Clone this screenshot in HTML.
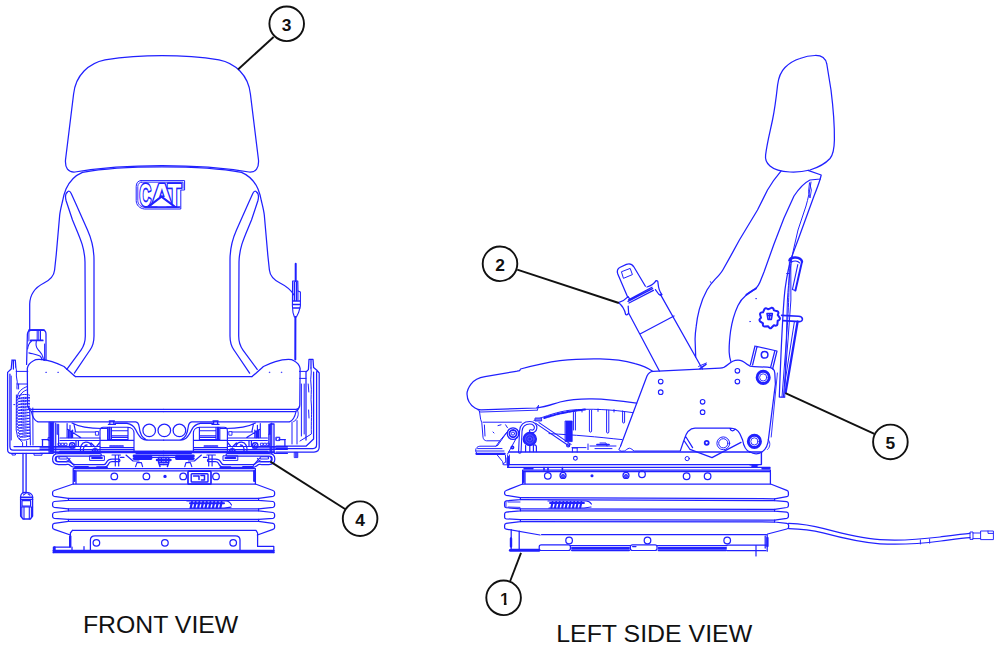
<!DOCTYPE html>
<html lang="en">
<head>
<meta charset="utf-8">
<title>Seat - Front view and left side view</title>
<style>
html,body{margin:0;padding:0;background:#fff;}
body{width:1000px;height:648px;overflow:hidden;font-family:"Liberation Sans",sans-serif;}
svg{display:block;}
.b{fill:none;stroke:#2020ff;stroke-width:1.25;stroke-linecap:round;stroke-linejoin:round;}
.k{fill:none;stroke:#111;stroke-width:1.9;stroke-linecap:butt;}
.num{font-family:"Liberation Sans",sans-serif;font-weight:bold;font-size:17.4px;fill:#111;stroke:none;text-anchor:middle;}
.cap{font-family:"Liberation Sans",sans-serif;font-size:23.6px;fill:#111;stroke:none;}
</style>
</head>
<body>
<svg width="1000" height="648" viewBox="0 0 1000 648">
<rect x="0" y="0" width="1000" height="648" fill="#ffffff"/>
<g class="b" id="front-view">
<path d="M75 172 C68 172.5 65 168 65.5 160 L73.6 94 C75.6 75 89 63 105 59.8 C125 56.8 145 55.6 162 55.6 C180 55.6 200 56.8 219 59.8 C235 63 248.4 75 250.4 94 L258.5 160 C259 168 256 172.5 249 172 C225 168 195 165.6 162 165.6 C129 165.6 99 168 75 172 Z"/>
<path d="M82.5 172.3 C100 169 130 166.8 162 166.8 C194 166.8 224 169 241.5 172.3"/>
<path d="M82.5 172.3 C75 175.4 69.5 181 66 189 C64.4 193 63.2 197 62.6 201 C61.4 206 60.3 210 59.7 215 L56.2 255 L54.6 270 C54 276 50 280 44 283 C35 287.5 30 294 29.7 304 L29.7 331"/>
<path d="M241.5 172.3 C249 175.4 254.5 181 258 189 C259.6 193 260.8 197 261.4 201 C262.6 206 263.7 210 264.3 215 L267.8 255 L269.4 270 C270 276 274 280 280 283 C287 286.5 291 290 294 295"/>
<path d="M67 192.5 C65.2 194 65.4 198 66.2 201 L72.5 220 C79 236 84.6 246 85 262 L85.3 336 C85.3 342 84 346 81 350 L66.8 369.4"/>
<path d="M67 192.5 C68.4 190.3 70 191 71.2 193.5 L75.5 203 L87.5 230 C92 240 94 249 94 260 L94 336 C94 342 93 346 90 350 L74.4 373.2"/>
<g transform="translate(324,0) scale(-1,1)"><path d="M67 192.5 C65.2 194 65.4 198 66.2 201 L72.5 220 C79 236 84.6 246 85 262 L85.3 336 C85.3 342 84 346 81 350 L66.8 369.4"/><path d="M67 192.5 C68.4 190.3 70 191 71.2 193.5 L75.5 203 L87.5 230 C92 240 94 249 94 260 L94 336 C94 342 93 346 90 350 L74.4 373.2"/></g>
<path d="M141 180.6 L184.6 180.6 L184.6 190 L180.8 190 L180.8 209 L144.5 209 C139.5 208.5 136.2 205 136.2 200.5 L136.2 186.5 C136.2 183 138 180.6 141 180.6 Z" stroke-width="1.0"/>
<path d="M141.6 182.2 L183 182.2 L183 188.4 M179.4 207.5 L145 207.5 C140.8 207 137.8 204.3 137.8 200.5 L137.8 186.5 C137.8 184 139.4 182.2 141.6 182.2" stroke-width="0.9"/>
<g id="cat-logo" aria-label="CAT">
<text transform="translate(139.4,206.3) scale(0.5,1)" style="font-family:'Liberation Sans',sans-serif;font-weight:bold;font-size:32.2px;vector-effect:non-scaling-stroke;stroke-linejoin:round;fill:#fff;stroke:#2222ff;stroke-width:2.9;paint-order:stroke;">C</text>
<text transform="translate(151.0,206.3) scale(0.93,1)" style="font-family:'Liberation Sans',sans-serif;font-weight:bold;font-size:32.2px;vector-effect:non-scaling-stroke;stroke-linejoin:round;fill:#fff;stroke:#2222ff;stroke-width:2.9;paint-order:stroke;">A</text>
<text transform="translate(167.6,206.3) scale(0.7,1)" style="font-family:'Liberation Sans',sans-serif;font-weight:bold;font-size:32.2px;vector-effect:non-scaling-stroke;stroke-linejoin:round;fill:#fff;stroke:#2222ff;stroke-width:2.9;paint-order:stroke;">T</text>
</g>
<path d="M150 206.4 L161.4 197.4 L173.2 206.4 Z" fill="#fff" stroke="none"/>
<path d="M148.8 206.4 L161.4 196.6 L174.4 206.4" stroke-width="2.0" fill="none"/>
<path d="M146 206.8 L180 206.8" stroke-width="1.2"/>
<path d="M295.7 263.8 L295.7 281 M295.4 317 L295.3 359.4" stroke-width="2.0"/>
<path d="M292.6 281 L297.8 281 L298 291 L300.4 292 L300.4 306 L298.6 312.6 L296.4 317 L294.4 317 L293 312.6 L292.4 306 Z" stroke-width="1.1"/>
<path d="M294.4 282 L294.4 300 M296.6 282 L296.6 300 M293 301 L300 301 M293 304.6 L300 304.6 M293.4 308 L299.8 308" stroke-width="1.5"/>
<path d="M298 291 L298 300" stroke-width="1.0"/>
<path d="M75.4 376.6 L252 376.6"/>
<path d="M75.4 376.6 C72 374 68 370 64 366.5 C60 364.6 56 363 52 361.7 C47 360.1 43 359.4 39 359.4 C36 359.4 34.5 360 33.5 360.7 C30 362.6 27.8 365 27.3 368.4 L27.6 404.6 C27.6 408 28.8 409.2 31.4 409.4 L163.7 409.4 M28.4 407 C28.8 410 30.4 411.4 33 411.6 L163.7 411.6"/>
<g transform="translate(327.4,0) scale(-1,1)"><path d="M75.4 376.6 C72 374 68 370 64 366.5 C60 364.6 56 363 52 361.7 C47 360.1 43 359.4 39 359.4 C36 359.4 34.5 360 33.5 360.7 C30 362.6 27.8 365 27.3 368.4 L27.6 404.6 C27.6 408 28.8 409.2 31.4 409.4 L163.7 409.4 M28.4 407 C28.8 410 30.4 411.4 33 411.6 L163.7 411.6"/></g>
<path d="M295.8 409.6 C298.4 409.8 298.8 414 297.6 417 C296.8 419 295.6 420.6 293.6 421.6" stroke-width="1.0"/>
<path d="M31.5 412 C32.5 417 34.5 420.6 38 421.9 L135.6 421.9 C138 422.2 138.8 424 139.2 427 C139.8 432.5 141.4 437.6 146 439.6 C147.4 440.1 148.6 440.2 150.6 440.2 L163.7 440.2 M115 423.4 L127 423.4 C131 424 134 426.4 135.6 429.6 C137 432.6 138.6 436 141.4 438.2 C143 439.4 144.6 440.2 146.6 440.2"/>
<g transform="translate(327.4,0) scale(-1,1)"><path d="M31.5 412 C32.5 417 34.5 420.6 38 421.9 L135.6 421.9 C138 422.2 138.8 424 139.2 427 C139.8 432.5 141.4 437.6 146 439.6 C147.4 440.1 148.6 440.2 150.6 440.2 L163.7 440.2 M115 423.4 L127 423.4 C131 424 134 426.4 135.6 429.6 C137 432.6 138.6 436 141.4 438.2 C143 439.4 144.6 440.2 146.6 440.2"/></g>
<circle cx="149.2" cy="430.4" r="6.3"/>
<circle cx="164.3" cy="430.4" r="6.3"/>
<circle cx="179.4" cy="430.4" r="6.3"/>
<circle cx="46" cy="372.3" r="0.35" stroke-width="0.6"/>
<circle cx="58" cy="372.3" r="0.35" stroke-width="0.6"/>
<circle cx="269.4" cy="372.3" r="0.35" stroke-width="0.6"/>
<circle cx="281.4" cy="372.3" r="0.35" stroke-width="0.6"/>
<path d="M26.6 364.4 L27.4 334 C27.6 331 29.6 329.8 32.4 329.8 L42 329.8 C45 329.8 46 331.4 46 334 L46 360.6"/>
<path d="M29 330.2 L44 330.2" stroke-width="1.8"/>
<path d="M28.9 332 L28.9 341 M37.2 331 L37.2 340 M40.5 331 L40.5 340 M38.8 331 L38.8 340 M44.6 344 L44.6 360.6" stroke-width="1.0"/>
<path d="M30.7 340.4 L42.8 340.4" stroke-width="1.7"/>
<path d="M36.3 341.3 C35.6 345 36.6 348 38.1 349.6 C40 352 42.4 354 42.8 357 L43.7 360.3 M31.4 341.3 C29 343 28 346 27.6 349 M28.9 352.9 C33 354 37 354.6 40 356 C41.4 357 41.8 358.4 41.9 359.8" stroke-width="1.1"/>
<path d="M12 360 L15.3 360 L15.8 367 M12 360 L11.2 369 L7.6 372.4 L7.6 449.6 C7.6 452.4 8.8 453.4 11.4 453.4 L49 453.4 M9.9 374 L9.9 446.4 C9.9 449 10.8 450 13 450 L49 450 M14 446.6 L49 446.6 M13.4 361 L13.4 369"/>
<path d="M15.8 367 C17.4 371 15.6 375 16.8 379 C18 383 16.4 386 17 389" stroke-width="1.0"/>
<path d="M16.2 371.4 L27.8 371.4 M16.8 384 L27.4 384 M18.6 384 L18.6 389 M11.2 376 L11.2 440 M13.8 404.6 L14.8 404.6" stroke-width="1.0"/>
<path d="M17.2 397.6 C17.6 392 22 388 27.6 386.4 M19 399 C19.6 394 23 391 27.6 389.6 M16.6 397.5 C17.6 394.4 26.6 393.6 29.6 395.2 M16.6 397.5 C18.6 399.4 25.6 399.2 29.6 397.4 M16.6 400.4 C17.6 397.3 26.6 396.5 29.6 398.1 M16.6 400.4 C18.6 402.3 25.6 402.1 29.6 400.3 M16.6 403.4 C17.6 400.3 26.6 399.5 29.6 401.1 M16.6 403.4 C18.6 405.3 25.6 405.1 29.6 403.3 M16.6 406.4 C17.6 403.2 26.6 402.4 29.6 404.1 M16.6 406.4 C18.6 408.2 25.6 408.1 29.6 406.2 M16.6 409.3 C17.6 406.2 26.6 405.4 29.6 407.0 M16.6 409.3 C18.6 411.2 25.6 411.0 29.6 409.2 M16.6 412.2 C17.6 409.1 26.6 408.3 29.6 409.9 M16.6 412.2 C18.6 414.1 25.6 413.9 29.6 412.1 M16.6 415.2 C17.6 412.1 26.6 411.3 29.6 412.9 M16.6 415.2 C18.6 417.1 25.6 416.9 29.6 415.1 M16.6 418.1 C17.6 415.0 26.6 414.2 29.6 415.8 M16.6 418.1 C18.6 420.0 25.6 419.8 29.6 418.0 M16.6 421.1 C17.6 418.0 26.6 417.2 29.6 418.8 M16.6 421.1 C18.6 423.0 25.6 422.8 29.6 421.0 M16.6 424.1 C17.6 420.9 26.6 420.1 29.6 421.8 M16.6 424.1 C18.6 425.9 25.6 425.8 29.6 423.9 M17.1 427.0 C18.1 423.9 26.6 423.1 29.6 424.7 M17.1 427.0 C19.1 428.9 25.6 428.7 29.6 426.9 M17.6 429.9 C18.6 426.8 26.6 426.0 29.6 427.6 M17.6 429.9 C19.6 431.8 25.6 431.6 29.6 429.8 M18.1 432.9 C19.1 429.8 26.6 429.0 29.6 430.6 M18.1 432.9 C20.1 434.8 25.6 434.6 29.6 432.8 M18.6 435.9 C19.6 432.8 26.6 431.9 29.6 433.6 M18.6 435.9 C20.6 437.8 25.6 437.6 29.6 435.8 M19.1 438.8 C20.1 435.7 26.6 434.9 29.6 436.5 M19.1 438.8 C21.1 440.7 25.6 440.5 29.6 438.7 " stroke-width="1.0"/>
<path d="M16.4 395 L16.2 430 L17.6 437 L22.6 442.6 L22.6 446.4 M29.8 408 L30.4 445 M32.8 408 L33 445 M26.6 441 L26.6 446.4" stroke-width="1.0"/>
<path d="M12 453.6 L12 455 L15.4 455 L15.4 453.6 M34 453.6 L34 455.2 L42 455.2 L42 453.6" stroke-width="1.0"/>
<path d="M23 453.5 L23 493 M26.1 453.5 L26.1 493" stroke-width="1.3"/>
<path d="M20.6 497 C20.6 494 23 492.4 25 492.4 L28 492.6 C30.6 493 32.6 495 32.6 497 L32.6 516 L30.4 519 L23 519 L20.6 516 Z" stroke-width="1.3"/>
<path d="M20.6 497.2 L32.6 497.2 M20.6 499.4 L32.6 499.4" stroke-width="1.4"/>
<rect x="22" y="500.6" width="8.6" height="5.6" stroke-width="1.2"/>
<path d="M20.6 507 L32.6 507 M21.8 507.4 L21.8 517 M24 507.4 L24 519 M29.3 507.4 L29.3 519 M31.4 507.4 L31.4 517 M23.4 495 L25.4 493.6 M28 493.8 L30 495.2" stroke-width="1.1"/>
<path d="M309 359.4 L313 359.4 L313.6 367.6 L316.6 370 L319.2 373 L319.2 447 C319.2 450.6 317.4 452 314 452 L276 452 M309 359.4 L308.4 369.6 L306 372 L306 440 M316.6 371.6 L316.6 444.6 C316.6 447.4 315.2 448.6 313 448.6 L276 448.6 M276 446.2 L306 446.2 L313.6 439 L313.6 372 M311 360 L311 368"/>
<path d="M311 368 C312 374 310 378 311 384 C312 391 310.4 398 311.4 405 C312 413 311 421 311.4 434 L300 441" stroke-width="1.0"/>
<path d="M299.4 371.4 L306 371.4 M299.6 378.4 L306 378.4 M301.4 384 L301.4 436 M304.2 384 L304.2 434 M292 422 L292 444 M297 420.6 L297 444 M308.2 384 L308.8 392 M308.6 410 L309 418" stroke-width="1.0"/>
<rect x="276.2" y="437.2" width="3.6" height="3.2" stroke-width="0.9"/>
<rect x="294.6" y="452.4" width="3.2" height="5.2" fill="#4a4aff" stroke-width="0.8"/>
<g><path d="M55.7 423 L55.7 462" stroke-width="1.15"/><rect x="57.2" y="424.2" width="1.6" height="10.2" fill="#2020ff" stroke-width="0.6"/><path d="M58.6 434.4 L58.6 446" stroke-width="1.15"/><rect x="48.4" y="437.6" width="2.6" height="3.0" fill="#fff" stroke-width="0.9"/><path d="M42 439.6 L48.4 439.6 M42.5 439.6 L42.5 446.4" stroke-width="1.26"/><path d="M40 446.5 L100 446.5 M40 447.9 L75 447.9 M40 449.5 L134 449.5 M53 451.2 L163.7 451.2 M53 452.6 L163.7 452.6" stroke-width="1.15"/><path d="M60 451.9 L163.7 451.9" stroke-width="2.18"/><path d="M40 453.4 L53 453.4" stroke-width="1.15"/><path d="M67.1 438 L67.1 423.6 M60 438 L100 438 M60 440.5 L100 440.5 M68 429.4 C72 432 76 435 80.7 437.4 M74.8 432 L98.4 432 M74 424.3 C74.6 427 75 429.6 75.6 432 M72 423 C80 427.4 92 428.8 107 428.4 M70 425.4 L70 437.6 M72.6 430 L72.6 437.6" stroke-width="1.15"/><path d="M68.8 430.4 L68.8 437.4 M71.2 431 L71.2 437.4" stroke-width="1.72"/><rect x="95.8" y="431.6" width="2.8" height="3.6" fill="#fff" stroke-width="0.9"/><rect x="58.4" y="443.2" width="2.2" height="2.4" stroke-width="0.9"/><rect x="61.6" y="443.2" width="2.2" height="2.4" stroke-width="0.9"/><rect x="64.8" y="443.2" width="2.2" height="2.4" stroke-width="0.9"/><circle cx="72.2" cy="445.4" r="2.7" stroke-width="1.4"/><circle cx="72.2" cy="445.4" r="1.0" stroke-width="1.0"/><path d="M80.6 452 C79.6 447 81.6 442.6 85.6 442.2 C88.6 442 90.6 443.6 91.4 446 M83.4 451 C83 447.6 84.4 445 87 445 M91 443 L95 447 M99.4 443 L96.4 446.6 M76 441 L76 446 M78.4 441 L78.4 446" stroke-width="1.26"/><circle cx="95.1" cy="451.4" r="2.7" stroke-width="1.5"/><circle cx="95.1" cy="451.4" r="0.9" stroke-width="1.2"/><path d="M100 451 L100 431 C100 429 101 427.2 103.4 427.2 L128 427.2 C131.6 427.4 134 430 134 433 L134 452 M107.6 427.8 L107.6 439.6 L128 439.6 L128 427.8 M111.4 430.7 L128 430.7 M111.4 435.8 L128 435.8 M111.4 437.5 L128 437.5 M111.4 428 L111.4 439.6 M100 440.4 L134 440.4 M100 447.6 L134 447.6" stroke-width="1.15"/><path d="M109.4 428 L109.4 439.4" stroke-width="2.3"/><path d="M110 446 L123 446" stroke-width="1.72" stroke-dasharray="2.2 0.8"/><path d="M109.3 421 L114.4 421 M109.8 421 L109.8 424.4 M113.8 421 L113.8 424.4 M108.4 424.4 L115.4 424.4" stroke-width="1.26"/><path d="M100 454.9 L58.4 454.9 C54.6 454.9 53.9 457 53.9 459.1 C53.9 462 55 463.3 58.6 463.3 L64.6 463.3 C67.4 463.3 68.6 462.4 69.8 463.6 C71.4 465.2 72.4 466 75 466 L103.6 466 C106.4 466 107.2 464 108 462.4 C108.8 460.8 110 460.4 112 460.4 L118.6 460.4" stroke-width="3.9"/><path d="M100 454.9 L58.4 454.9 C54.6 454.9 53.9 457 53.9 459.1 C53.9 462 55 463.3 58.6 463.3 L64.6 463.3 C67.4 463.3 68.6 462.4 69.8 463.6 C71.4 465.2 72.4 466 75 466 L103.6 466 C106.4 466 107.2 464 108 462.4 C108.8 460.8 110 460.4 112 460.4 L118.6 460.4" stroke-width="1.44" stroke="#fff"/><path d="M58.6 456.8 L66.4 456.8 C67.6 456.8 67.6 459 66.4 459 L60.4 459 C58.2 459 58.2 456.8 60.4 456.8 M57 457 C55.8 458 55.8 460.6 57.4 461.4 L66 461.4 C68 461.4 69 460 70 458.4" stroke-width="1.03"/><path d="M68 458.3 L74 465.4" stroke-width="1.15"/><rect x="90" y="455.8" width="14.4" height="4.6" stroke-width="1.0"/><path d="M92 458 L102 458" stroke-width="1.84"/><path d="M115.3 455 L115.3 466 M118.7 455 L118.7 466 M112 455 L120.5 455 M120.5 457.4 L124 457.4 M135.6 466.6 L137 462.6 L141.4 462.6 L142.6 466.6 M126 455 L133 461 L139 461" stroke-width="1.15"/><path d="M134 456 L151 456 M134 458.6 L151 458.6" stroke-width="2.76"/><path d="M136 453.6 L163.7 453.6 M152 455.4 L163.7 455.4 M150 457.4 L163.7 457.4" stroke-width="1.15"/><path d="M158.6 457.6 L163.7 457.6 M158.6 457.6 L158.6 462.4 L160 466.6 M158.6 462.4 L163.7 462.4 M161.4 457.6 L161.4 462.4 M160.4 464.4 L163.7 464.4" stroke-width="1.49"/><path d="M157 460 L163.7 460" stroke-width="2.53"/><path d="M97 467.2 L107 467.2" stroke-width="1.84"/></g>
<rect x="49.2" y="422.2" width="4.6" height="30.6" fill="#2020ff" stroke-width="0.8"/>
<rect x="270.2" y="424" width="3.8" height="28.4" stroke-width="1.3"/>
<g transform="translate(327.4,0) scale(-1,1)"><path d="M55.7 423 L55.7 462" stroke-width="1.15"/><rect x="57.2" y="424.2" width="1.6" height="10.2" fill="#2020ff" stroke-width="0.6"/><path d="M58.6 434.4 L58.6 446" stroke-width="1.15"/><rect x="48.4" y="437.6" width="2.6" height="3.0" fill="#fff" stroke-width="0.9"/><path d="M42 439.6 L48.4 439.6 M42.5 439.6 L42.5 446.4" stroke-width="1.26"/><path d="M40 446.5 L100 446.5 M40 447.9 L75 447.9 M40 449.5 L134 449.5 M53 451.2 L163.7 451.2 M53 452.6 L163.7 452.6" stroke-width="1.15"/><path d="M60 451.9 L163.7 451.9" stroke-width="2.18"/><path d="M40 453.4 L53 453.4" stroke-width="1.15"/><path d="M67.1 438 L67.1 423.6 M60 438 L100 438 M60 440.5 L100 440.5 M68 429.4 C72 432 76 435 80.7 437.4 M74.8 432 L98.4 432 M74 424.3 C74.6 427 75 429.6 75.6 432 M72 423 C80 427.4 92 428.8 107 428.4 M70 425.4 L70 437.6 M72.6 430 L72.6 437.6" stroke-width="1.15"/><path d="M68.8 430.4 L68.8 437.4 M71.2 431 L71.2 437.4" stroke-width="1.72"/><rect x="95.8" y="431.6" width="2.8" height="3.6" fill="#fff" stroke-width="0.9"/><rect x="58.4" y="443.2" width="2.2" height="2.4" stroke-width="0.9"/><rect x="61.6" y="443.2" width="2.2" height="2.4" stroke-width="0.9"/><rect x="64.8" y="443.2" width="2.2" height="2.4" stroke-width="0.9"/><circle cx="72.2" cy="445.4" r="2.7" stroke-width="1.4"/><circle cx="72.2" cy="445.4" r="1.0" stroke-width="1.0"/><path d="M80.6 452 C79.6 447 81.6 442.6 85.6 442.2 C88.6 442 90.6 443.6 91.4 446 M83.4 451 C83 447.6 84.4 445 87 445 M91 443 L95 447 M99.4 443 L96.4 446.6 M76 441 L76 446 M78.4 441 L78.4 446" stroke-width="1.26"/><circle cx="95.1" cy="451.4" r="2.7" stroke-width="1.5"/><circle cx="95.1" cy="451.4" r="0.9" stroke-width="1.2"/><path d="M100 451 L100 431 C100 429 101 427.2 103.4 427.2 L128 427.2 C131.6 427.4 134 430 134 433 L134 452 M107.6 427.8 L107.6 439.6 L128 439.6 L128 427.8 M111.4 430.7 L128 430.7 M111.4 435.8 L128 435.8 M111.4 437.5 L128 437.5 M111.4 428 L111.4 439.6 M100 440.4 L134 440.4 M100 447.6 L134 447.6" stroke-width="1.15"/><path d="M109.4 428 L109.4 439.4" stroke-width="2.3"/><path d="M110 446 L123 446" stroke-width="1.72" stroke-dasharray="2.2 0.8"/><path d="M109.3 421 L114.4 421 M109.8 421 L109.8 424.4 M113.8 421 L113.8 424.4 M108.4 424.4 L115.4 424.4" stroke-width="1.26"/><path d="M100 454.9 L58.4 454.9 C54.6 454.9 53.9 457 53.9 459.1 C53.9 462 55 463.3 58.6 463.3 L64.6 463.3 C67.4 463.3 68.6 462.4 69.8 463.6 C71.4 465.2 72.4 466 75 466 L103.6 466 C106.4 466 107.2 464 108 462.4 C108.8 460.8 110 460.4 112 460.4 L118.6 460.4" stroke-width="3.9"/><path d="M100 454.9 L58.4 454.9 C54.6 454.9 53.9 457 53.9 459.1 C53.9 462 55 463.3 58.6 463.3 L64.6 463.3 C67.4 463.3 68.6 462.4 69.8 463.6 C71.4 465.2 72.4 466 75 466 L103.6 466 C106.4 466 107.2 464 108 462.4 C108.8 460.8 110 460.4 112 460.4 L118.6 460.4" stroke-width="1.44" stroke="#fff"/><path d="M58.6 456.8 L66.4 456.8 C67.6 456.8 67.6 459 66.4 459 L60.4 459 C58.2 459 58.2 456.8 60.4 456.8 M57 457 C55.8 458 55.8 460.6 57.4 461.4 L66 461.4 C68 461.4 69 460 70 458.4" stroke-width="1.03"/><path d="M68 458.3 L74 465.4" stroke-width="1.15"/><rect x="90" y="455.8" width="14.4" height="4.6" stroke-width="1.0"/><path d="M92 458 L102 458" stroke-width="1.84"/><path d="M115.3 455 L115.3 466 M118.7 455 L118.7 466 M112 455 L120.5 455 M120.5 457.4 L124 457.4 M135.6 466.6 L137 462.6 L141.4 462.6 L142.6 466.6 M126 455 L133 461 L139 461" stroke-width="1.15"/><path d="M134 456 L151 456 M134 458.6 L151 458.6" stroke-width="2.76"/><path d="M136 453.6 L163.7 453.6 M152 455.4 L163.7 455.4 M150 457.4 L163.7 457.4" stroke-width="1.15"/><path d="M158.6 457.6 L163.7 457.6 M158.6 457.6 L158.6 462.4 L160 466.6 M158.6 462.4 L163.7 462.4 M161.4 457.6 L161.4 462.4 M160.4 464.4 L163.7 464.4" stroke-width="1.49"/><path d="M157 460 L163.7 460" stroke-width="2.53"/><path d="M97 467.2 L107 467.2" stroke-width="1.84"/></g>
<path d="M73.2 468.6 L255.4 468.6 M73.2 470.8 L255.4 470.8 M73.2 468.6 L73.2 484 M255.4 468.6 L255.4 484 M73.2 484 L255.4 484 M76 470.8 L76 483.6"/>
<path d="M74.6 471 L74.6 481 M254.2 471 L254.2 481" stroke-width="2.2"/>
<path d="M75 466.8 L88 466.8 M243 466.8 L253 466.8" stroke-width="1.8"/>
<circle cx="114.3" cy="476.4" r="3.3"/>
<circle cx="146.4" cy="476.4" r="3.3"/>
<circle cx="183.2" cy="476.4" r="3.3"/>
<circle cx="216" cy="476.4" r="3.3"/>
<circle cx="165" cy="476.4" r="0.9" stroke-width="1.6"/>
<rect x="188" y="471.2" width="23" height="13" rx="1" stroke-width="1.7"/>
<rect x="191.2" y="473.8" width="16.8" height="8.2" rx="0.8" stroke-width="1.4"/>
<path d="M193.5 476 L199 476 L199 479.5 M201 475.5 L204.5 475.5 L204.5 480 L201.5 480" stroke-width="1.5"/>
<path d="M73.2 484 L54.2 490.5 Q52.6 491 52.6 492.4 L52.6 494.6 Q52.6 496 54.2 496.3 L68.4 498.4 L68.4 500.4 L54.2 501.5 Q52.6 502 52.6 503.4 L52.6 505.6 Q52.6 507 54.2 507.3 L68.4 508.8 L68.4 510.8 L54.2 512.5 Q52.6 513 52.6 514.4 L52.6 516.6 Q52.6 518 54.2 518.3 L68.4 519.4 L68.4 521.4 L54.2 523.3 Q52.6 523.8 52.6 525.2 L52.6 527.6 Q52.6 529 54.2 529.3 L70.4 535"/>
<path d="M255.4 484 L273.0 490.5 Q274.6 491 274.6 492.4 L274.6 494.6 Q274.6 496 273.0 496.3 L258.6 498.4 L258.6 500.4 L273.0 501.5 Q274.6 502 274.6 503.4 L274.6 505.6 Q274.6 507 273.0 507.3 L258.6 508.8 L258.6 510.8 L273.0 512.5 Q274.6 513 274.6 514.4 L274.6 516.6 Q274.6 518 273.0 518.3 L258.6 519.4 L258.6 521.4 L273.0 523.3 Q274.6 523.8 274.6 525.2 L274.6 527.6 Q274.6 529 273.0 529.3 L257.4 535"/>
<path d="M68.4 498.4 L258.6 498.4 M68.4 500.4 L258.6 500.4 M68.4 508.8 L258.6 508.8 M68.4 510.8 L258.6 510.8 M68.4 519.4 L258.6 519.4 M68.4 521.4 L258.6 521.4"/>
<path d="M187 501 L226 501 C229 501 230.5 503 231.5 505 M190 508.2 L224 508.2 L231 507.2" stroke-width="1.2"/>
<path d="M192.0 502 L190.8 507.6 M195.7 502 L194.5 507.6 M199.4 502 L198.2 507.6 M203.1 502 L201.9 507.6 M206.8 502 L205.6 507.6 M210.5 502 L209.3 507.6 M214.2 502 L213.0 507.6 M217.9 502 L216.7 507.6 M221.6 502 L220.4 507.6 " stroke-width="2.2"/>
<path d="M190 503.2 L224 503.2" stroke-width="2.0"/>
<path d="M72.4 530.4 L256 530.4 M72.4 530.4 L70.4 533 L70.4 546 M257.6 533 L257.6 546 M256 530.4 L257.6 533"/>
<path d="M90.4 550 L90.4 540 C90.4 537 92 535.8 95 535.8 L235.5 535.8 C238.5 535.8 240 537 240 540 L240 550"/>
<circle cx="96.4" cy="542.8" r="3.3"/>
<circle cx="164.9" cy="542.8" r="3.3"/>
<circle cx="233.2" cy="542.8" r="3.3"/>
<path d="M53.4 547 L70 547 M53.4 547 L53.4 552.6 M257.6 546.4 L273.8 546.4 L273.8 552.6 M84 546.5 L84 552 M72 547 L72 552"/>
<path d="M53.4 550.6 L273.8 550.6 M53.4 552.4 L273.8 552.4" stroke-width="1.7"/>
<path d="M70.2 536.5 L70.2 546.5" stroke-width="2.4"/>
<path d="M54.6 547.4 L54.6 552" stroke-width="2.2"/>
</g>
<g class="b" id="side-view">
<path d="M815 55.5 C821 55.3 825.5 58 826.8 64 L831 90 C833.5 110 834.6 125 834.4 140 C834.2 150 833 155 830 158.5 C825 164 818 167.5 810 170 C803 171.8 796 172.3 790 172 C781 171.5 774 169.5 770 166 C766 162.5 765 159 765.6 155 C767 143 770 132 772.5 120 C775 108 776.5 95 777.6 85 C778.6 77 781 71.5 785 67.5 C790 62.5 795 60 800 58.5 C805 56.6 810 55.6 815 55.5 Z"/>
<path d="M781 171.2 C776 177 771 184 767.5 190 L757.5 210 L739.4 240 L731 255.4 L722.8 270 C720.8 273.4 718 276.4 715 279.4 C712 282.6 709 286.4 707 290 C703.6 296 701 303 699.3 309.4 C697.6 316 696.6 322 696.2 326.4 C695.4 332 695 337 695.1 340 L695.7 357"/>
<path d="M710.4 281.6 L711.4 283.4" stroke-width="0.9"/>
<path d="M808 170.4 L821.2 175 L820.2 179 L810 180 C803 183.5 798 190 794 196 L784 218 L774 244 L764 272 L761.2 279 C759.8 283 758 286.8 755 289 C751 291.8 748 293.4 746 295.2 C742 298.6 739.6 302 738 305.4 C734 314 731.6 324 730.6 331 C729.4 340 729 347 729.2 352.4 C729.4 356 730 359 730.8 361.4"/>
<path d="M756 288.4 C752 291 749 292.8 746.4 294.8" stroke-width="1.8"/>
<path d="M820.2 179 C818 186 816 191 814 196 L806 218 L798 240 L792 256 C789.6 263 787 275 785.2 288 C783.6 300 781.4 340 779.3 397 L784.7 397"/>
<path d="M811 182 C810 190 808 199 806 206 L798 230 L793.4 250 C791 262 788.6 280 787.4 300 L784.7 397" stroke-width="1.0"/>
<path d="M789.4 262 C789 280 789.4 300 786.4 340 L782 397 M790.8 264 L790.9 300 L788 340 L783.4 397" stroke-width="1.0"/>
<path d="M809.6 183 L811.4 190 L810 198 L808.6 192 Z" stroke-width="0.9"/>
<path d="M786.7 273.5 L789.4 273.5" stroke-width="1.0"/>
<circle cx="756" cy="298.7" r="0.4" stroke-width="0.6"/>
<circle cx="750" cy="321.6" r="0.4" stroke-width="0.6"/>
<path d="M789.4 260.4 C790.2 256.4 800.8 256.2 802 261.6" stroke-width="2.4"/>
<path d="M802 261.6 L795.4 290.6" stroke-width="2.0"/>
<path d="M797.8 264.6 L792.4 289.6 L795.4 290.6 M791 262.4 C794 260.4 797.6 260.8 799.6 262.8" stroke-width="1.1"/>
<path d="M781.6 315.4 L798.6 316.2 C803.4 316.4 803.6 321.4 799.6 321.6 L783 320.6" stroke-width="1.6"/>
<path d="M797.6 321.6 L785.6 392.6" stroke-width="2.3"/>
<path d="M794.4 321.6 L784.4 386" stroke-width="1.0"/>
<path d="M779.8 317.8 Q780.6 319.7 777.7 320.7 L777.4 324.4 Q776.8 326.4 773.9 325.2 L771.4 327.8 Q769.6 329.0 768.1 326.3 L764.5 326.6 Q762.4 326.4 763.0 323.3 L760.0 321.3 Q758.6 319.7 761.0 317.8 L760.0 314.3 Q759.9 312.2 763.0 312.3 L764.5 309.0 Q765.8 307.3 768.1 309.3 L771.4 307.8 Q773.4 307.3 773.9 310.4 L777.4 311.2 Q779.3 312.2 777.7 314.9 L779.8 317.8 Z" stroke-width="2.0"/>
<path d="M767 313.6 L772.4 313.6 L771.4 319.4 L768 319.4 Z M767.6 315.6 L772 315.6 M769.6 313.6 L769.6 319" stroke-width="1.5"/>
<path d="M755 346 L777 351 L772.6 369 M755 346 L750.4 364.6 M757 346.6 L752.6 365 M774.8 351 L770.6 367.4"/>
<circle cx="764.6" cy="354.8" r="3.3" stroke-width="1.5"/>
<path d="M653 371.4 L720 368.2 C724 368 726 366.5 728 364.5 C731 361.5 734 360 738 360 C742 360 744.5 362 747 364.2 C749 366 751 366.6 754 366.6 L767.4 367.2 C772 367.4 774.6 369 774.8 373 L775.4 384 L768.6 438 C768.2 444 766.5 449 762 452 C758 454.5 753 454 749.5 451.5 M653 371.4 C650 371.6 648.4 373 647 376 L620.6 446"/>
<path d="M777.4 373 L771.2 437" stroke-width="0.9"/>
<path d="M768.4 440 C770.5 442 770.5 447 767.5 449.5" stroke-width="0.9"/>
<path d="M698.6 366.4 L706.4 363" stroke-width="1.0"/>
<path d="M700 368.6 L706 364.4" stroke-width="1.6"/>
<circle cx="660.7" cy="381.6" r="2.3" stroke-width="1.1"/>
<circle cx="660.7" cy="392.2" r="2.3" stroke-width="1.1"/>
<circle cx="702.6" cy="401.8" r="2.3" stroke-width="1.1"/>
<circle cx="702.6" cy="412.2" r="2.3" stroke-width="1.1"/>
<circle cx="737.4" cy="370.8" r="2.3" stroke-width="1.1"/>
<circle cx="737.4" cy="381.6" r="2.3" stroke-width="1.1"/>
<circle cx="763.2" cy="377.4" r="6.1" stroke-width="2.9"/>
<circle cx="763.2" cy="377.4" r="3.6" stroke-width="0.9"/>
<circle cx="754.4" cy="441.4" r="6.1" stroke-width="2.9"/>
<circle cx="754.4" cy="441.4" r="3.6" stroke-width="0.9"/>
<path d="M680.4 450.6 L684 440 C686 433 689 428.4 695 428.2 L730 428.2 C735 428.2 738 430 740 434 L742.6 440 C743.6 446 746 450.5 750 452.4 M730 428.6 C731 431.5 734 431.5 735 428.8 M684 440.5 L690 449.5 M686 437 L692.6 447.6 M690 449.4 L712 457.6 L720 453.4 L741 442.4"/>
<circle cx="723.3" cy="443.3" r="6.4" stroke-width="1.0"/>
<circle cx="723.3" cy="443.3" r="4.6" stroke-width="1.0"/>
<circle cx="706.7" cy="442.8" r="2.0" stroke-width="1.8"/>
<circle cx="687.2" cy="458.6" r="2.1" stroke-width="1.0"/>
<path d="M627.4 296.6 L617.8 274 C616.6 270.6 617.8 268.4 620.2 267.2 L626.4 264.4 C629.6 263.2 632 264 633.8 266.8 L645.4 286.2"/>
<path d="M621.8 271.6 L630.2 268.4 L632.4 274.6 L623.8 278.2 Z" stroke-width="1.0"/>
<path d="M618.4 302.6 C622 301.6 625.4 299.6 628.2 296.6 L629.6 299 M618.4 302.6 C621.4 305 624.4 308 625.6 314.4 C626.4 315.4 628 314.6 628.6 313 C628.6 310.6 628.2 308 628.2 306 M647 287 C650.6 286 654 284 656 280.6 C657.6 280.4 658 281.6 658 283 C658.4 287.6 659.4 291.6 662 294.6 C661.6 295.6 660 295.4 658.6 294 L655.4 289.6"/>
<path d="M628 301.4 L652.6 288.6 M629 303 L653.4 290.4 M628.6 299.8 L652 287.2" stroke-width="1.3"/>
<path d="M628.6 313 L659.4 371 M660.4 294.4 L702.4 369 M640 334 L674 316"/>
<path d="M652.6 371.2 C647 367.4 641 365.2 635 363.6 C624 360.4 612 359 600 358.8 C587 358.6 574 358.9 560 360.6 C546 362.4 533 365.6 520.6 369 L519.6 370.6 L517 371.2 C506 373 495 375 485 376.6 C478 377.8 474 380 471 384 C468 388 467 391 467 394 C467.2 400 470 405 475 408 C477 409.3 479 409.8 481 409.8 L536 408 C546 407 553 404 560 402 C570 399.5 580 398.6 592 398.8 C607 399 622 401 636.6 403.2"/>
<path d="M478 409.8 C478.5 411.2 479.4 412 481 412 L537 410.2 M537 408 L538.6 405.2 L537.4 410.2" stroke-width="0.95"/>
<path d="M479.4 410.8 L480.6 419.2 L481.8 422.8 L483 437.2 C483.4 439.6 484.6 440.6 486.6 440.8 L499.8 440.8 L506.6 432.6 M483 422.2 L521.4 422.2 M484.4 425 L485 436" stroke-width="1.0"/>
<path d="M534 420.4 C546 416 558 411.6 570 410.2 C590 408.2 612 409.6 632.6 412.6" stroke-width="1.0"/>
<path d="M544.2 418 C556 414 570 411 585 409.6" stroke-width="2.0" stroke-dasharray="3.2 1.2"/>
<path d="M573.4 412 L573.4 430 M575.4 412 L575.4 430 M589.4 410.4 L589.4 431 C589.4 432.5 591.6 432.5 591.6 431 L591.6 410.4 M606.6 410 L606.6 432 C606.6 433.5 608.8 433.5 608.8 432 L608.8 410.2 M622.6 411 L622.6 422 C622.6 423.4 624.6 423.4 624.6 422 L624.6 411.4 M582 409.4 L582 412 M598 409 L598 411.4 M614 409.6 L614 412 " stroke-width="1.0"/>
<rect x="565.4" y="421" width="6.8" height="20.6" fill="#2020ff" stroke-width="0.8"/>
<rect x="535.4" y="418" width="6.2" height="3" fill="#7a7aff" stroke-width="0.9"/>
<circle cx="568.2" cy="445.4" r="1.5" stroke-width="1.3"/>
<path d="M535.8 423.4 L569.4 446.2 M539 422.6 L571 444.4" stroke-width="1.1"/>
<path d="M549 433.6 C562 434.4 574 435 585 436 C598 437 610 438.4 622 439.6 M572.4 448 L572.4 452 M577.2 448 L577.2 452 M572.4 448 L577.2 448" stroke-width="1.0"/>
<circle cx="513" cy="433.6" r="5.8" stroke-width="1.3"/>
<circle cx="513" cy="433.6" r="3.6" stroke-width="1.8" stroke-dasharray="1.4 0.9"/>
<circle cx="513" cy="433.6" r="1.6" stroke-width="1.0"/>
<path d="M507.4 431.6 L497.4 445.8 M516.8 437.2 L507.6 454 M505.6 424.8 L507.4 427.6 M498 425.6 L501 424.8 M493 432 L494 433" stroke-width="1.0"/>
<circle cx="512.4" cy="447.4" r="1.2" stroke-width="1.6"/>
<path d="M497.4 455.2 L502.6 461.6 L503.4 464.8 L507.6 464.8 M505.4 455.2 L505.8 462 M507 458 L507 464" stroke-width="1.0"/>
<path d="M519.8 452 L520.8 431 C521.4 425 525.4 422.8 529.8 422.8 C534 422.8 535.8 425.6 535.6 428 C535.4 430.6 533 432 530.6 431" stroke-width="3.6"/>
<path d="M519.8 452 L520.8 431 C521.4 425 525.4 422.8 529.8 422.8 C534 422.8 535.8 425.6 535.6 428 C535.4 430.6 533 432 530.6 431" stroke-width="1.4" stroke="#fff"/>
<circle cx="529.8" cy="439" r="6.6" fill="#2a2aff" stroke-width="1.2"/>
<circle cx="529.8" cy="439" r="4.2" stroke-width="0.7" stroke="#6a6aff"/>
<circle cx="529.8" cy="439" r="2.0" stroke-width="0.7" stroke="#6a6aff"/>
<path d="M525.6 445.6 L525.6 451.6 M529.8 446 L529.8 451.6 M533.4 445.6 L533.4 451.6 M536.4 446.6 L536.4 451.6 M533.4 445.6 C534 444.4 536 444.6 536.4 446.6" stroke-width="1.2"/>
<path d="M476.4 452.8 C475 451 475.6 448.6 477 447.4 C478 446.4 479.4 446.2 481 446.2 L496 446.2 M496 446.2 L499.8 440.8 M477.6 448.6 L502 448.6 M476 451 L504 451" stroke-width="1.0"/>
<path d="M476.4 453.8 L504.6 453.8" stroke-width="2.2"/>
<path d="M509 452 L761.4 452" stroke-width="1.5"/>
<path d="M507.6 464.6 L761.4 464.6 M507.6 467.4 L770 467.4 M761.4 452.4 L761.4 464.6" stroke-width="1.4"/>
<path d="M507.6 455 L507.6 467.4 M505.6 462 L503 464 M509.4 455 L509.4 464.6" stroke-width="0.95"/>
<path d="M508.4 457 L508.4 466" stroke-width="1.8"/>
<path d="M572 447.6 L586 447.6 M590 446 L616 446 M595 448.6 L612 448.6 M600 443 L606 443 L607 446 M588 444 L588 449.6" stroke-width="1.0"/>
<path d="M597 444.6 L609 444.6" stroke-width="1.8"/>
<path d="M620.6 446.2 L618.8 449.6 L621 451.2 L624.4 451 C626 450.4 627.4 448.4 629.4 448.2 C631.4 448.2 632.6 450.4 634.4 451 L680 451" stroke-width="1.0"/>
<circle cx="575.4" cy="458.3" r="1.9" stroke-width="1.1"/>
<path d="M750 464.8 L758 464.8 M752 466.2 L757 466.2 M544 467.6 L544 470 M548 467.6 L548 470 M562.4 467.6 L562.4 470" stroke-width="1.6"/>
<path d="M522.6 470.2 L770.4 470.2 M522.6 471.6 L770.4 471.6 M522.6 470.2 L522.6 484 M770.4 470.2 L770.4 484 M522.6 484 L770.4 484 M525 472 L525 484"/>
<path d="M523.6 472 L523.6 482" stroke-width="2.0"/>
<path d="M524 468.8 L533 468.8 M762 468.8 L770 468.8" stroke-width="1.4"/>
<circle cx="547.8" cy="475.8" r="3.3"/>
<circle cx="563" cy="475.4" r="3.0"/>
<circle cx="626" cy="475.4" r="3.0"/>
<circle cx="642" cy="474.2" r="3.3"/>
<circle cx="686.6" cy="476.2" r="3.3"/>
<circle cx="707.6" cy="476.2" r="3.3"/>
<circle cx="563" cy="476" r="1.3" stroke-width="1.4"/>
<circle cx="626" cy="476" r="1.3" stroke-width="1.4"/>
<circle cx="592" cy="475.8" r="0.8" stroke-width="1.5"/>
<path d="M522.6 484 L506.2 490.5 Q504.6 491 504.6 492.4 L504.6 493.6 Q504.6 495 506.2 495.3 L520.4 497.6 L520.4 499.6 L506.2 500.9 Q504.6 501.4 504.6 502.8 L504.6 506.0 Q504.6 507.4 506.2 507.7 L520.4 508.8 L520.4 510.8 L506.2 512.1 Q504.6 512.6 504.6 514.0 L504.6 517.2 Q504.6 518.6 506.2 518.9 L520.4 519.6 L520.4 521.6 L506.2 523.3 Q504.6 523.8 504.6 525.2 L504.6 527.4 Q504.6 528.8 506.2 529.1 L540 535"/>
<path d="M770.6 484 L786.8 490.4 Q788.4 491 788.4 492.4 L788.4 495.0 Q788.4 496.4 786.8 496.7 L774.6 498.8 L774.6 500.6 L786.8 501.7 Q788.4 502.2 788.4 503.6 L788.4 505.8 Q788.4 507.2 786.8 507.5 L774.6 509.4 L774.6 511.2 L786.8 512.1 Q788.4 512.6 788.4 514 L788.4 516.6 Q788.4 518 786.8 518.3 L774.6 520.2 L774.6 522 L786.8 523.3 Q788.4 523.6 788.6 525 L788.6 527.4 Q788.4 528.6 786.8 529 L767.6 534"/>
<path d="M520.4 497.6 L774.6 498.8 M520.4 499.6 L774.6 500.6 M520.4 508.8 L774.6 509.4 M520.4 510.8 L774.6 511.2 M520.4 519.6 L774.6 520.2 M520.4 521.6 L774.6 522"/>
<path d="M506 501.8 L506 507 M508 502 L520 502 M508 507 L520 507.4" stroke-width="0.9"/>
<path d="M548 501 L586 501 C589 501 590.5 502.6 591.4 504 M549 508 L584 508 L591 507" stroke-width="1.2"/>
<path d="M552.6 502 L551.4 507.4 M556.2 502 L555.0 507.4 M559.8 502 L558.6 507.4 M563.4 502 L562.2 507.4 M567.0 502 L565.8 507.4 M570.6 502 L569.4 507.4 M574.2 502 L573.0 507.4 M577.8 502 L576.6 507.4 M581.4 502 L580.2 507.4 " stroke-width="2.1"/>
<path d="M550 503 L584 503" stroke-width="1.8"/>
<path d="M541.6 534.7 L766.4 534.7 M511.2 529.6 L511.2 550.4 M519.2 531.2 L519.2 549.6 M767.2 534.7 L767.2 551.2 M765.2 536 L765.2 548"/>
<path d="M511 538.4 L511 546.4 M767.4 538 L767.4 546" stroke-width="2.4"/>
<path d="M510.4 550.2 L538.8 550.2" stroke-width="3.0"/>
<rect x="539.2" y="544.8" width="31.2" height="5.7" rx="2" stroke-width="1.2"/>
<rect x="630.4" y="544.8" width="26.6" height="5.7" rx="2" stroke-width="1.2"/>
<path d="M570.4 545.6 L630.4 545.6 M657 545.6 L727 545.6 M727 545.2 L766 545.2 M727 550.6 L766 550.6 M756 546 L756 556 M632.6 546.6 L636 546.6" stroke-width="1.2"/>
<path d="M572 548 L629 548 M572 550.3 L629 550.3 M658.6 548 L726 548 M658.6 550.3 L726 550.3" stroke-width="2.1"/>
<circle cx="569.1" cy="540.5" r="3.3"/>
<circle cx="647.5" cy="540.5" r="3.3"/>
<circle cx="727.2" cy="540.5" r="3.3"/>
<path d="M788.6 523.4 C800 523.8 812 525.4 824 528.6 C842 533.4 860 538 880 539.6 C900 541 920 539.4 940 537 C952 535.4 962 534 970 533.4"/>
<path d="M788.6 528.6 C800 528.8 811 529.8 823 532.8 C841 537.6 860 542.2 880 543.8 C900 545 921 543.6 941 541 C953 539.4 962 538 970 537.6"/>
<path d="M920.4 540 L920.4 544 M929.6 539 L929.6 543.2 M970 532.4 L970 539.4 L973 539.4 L973 532.4 Z M973 533 L980.6 533 L980.6 531 L993.4 531 L993.4 539.6 L980.6 539.6 L980.6 538.6 L973 538.6 M980.6 533 L980.6 538.6 M988 531 L988 533.4 L993 533.4" stroke-width="0.95"/>
</g>
<g id="callouts">
<line class="k" x1="273.6" y1="37.0" x2="238" y2="69.5"/>
<circle class="k" cx="286.7" cy="23.8" r="17.3" fill="#fff"/>
<text class="num" x="286.7" y="30.7">3</text>
<line class="k" x1="345.4" y1="509.2" x2="270.4" y2="461.6"/>
<circle class="k" cx="360.1" cy="518.7" r="17.3" fill="#fff"/>
<text class="num" x="360.1" y="525.6">4</text>
<line class="k" x1="517.2" y1="269.6" x2="618.8" y2="303"/>
<circle class="k" cx="500" cy="263.8" r="17.3" fill="#fff"/>
<text class="num" x="500" y="270.7">2</text>
<line class="k" x1="510.2" y1="581" x2="521" y2="552.8"/>
<circle class="k" cx="503.6" cy="597.8" r="17.3" fill="#fff"/>
<clipPath id="one-clip"><path d="M500.40000000000003 590.7 L506.55 590.7 L506.55 605.7 L503.85 605.7 L503.85 602.4000000000001 L500.40000000000003 602.4000000000001 Z"/></clipPath>
<text class="num" x="504.8" y="604.7" clip-path="url(#one-clip)">1</text>
<line class="k" x1="874.4" y1="433.8" x2="785.4" y2="393.2"/>
<circle class="k" cx="890.4" cy="441.9" r="17.3" fill="#fff"/>
<text class="num" x="890.4" y="448.8">5</text>
</g>
<text class="cap" x="82.9" y="633.3" textLength="155.4" lengthAdjust="spacingAndGlyphs">FRONT VIEW</text>
<text class="cap" x="556.2" y="641.5" textLength="196" lengthAdjust="spacingAndGlyphs">LEFT SIDE VIEW</text>
</svg>
</body>
</html>
